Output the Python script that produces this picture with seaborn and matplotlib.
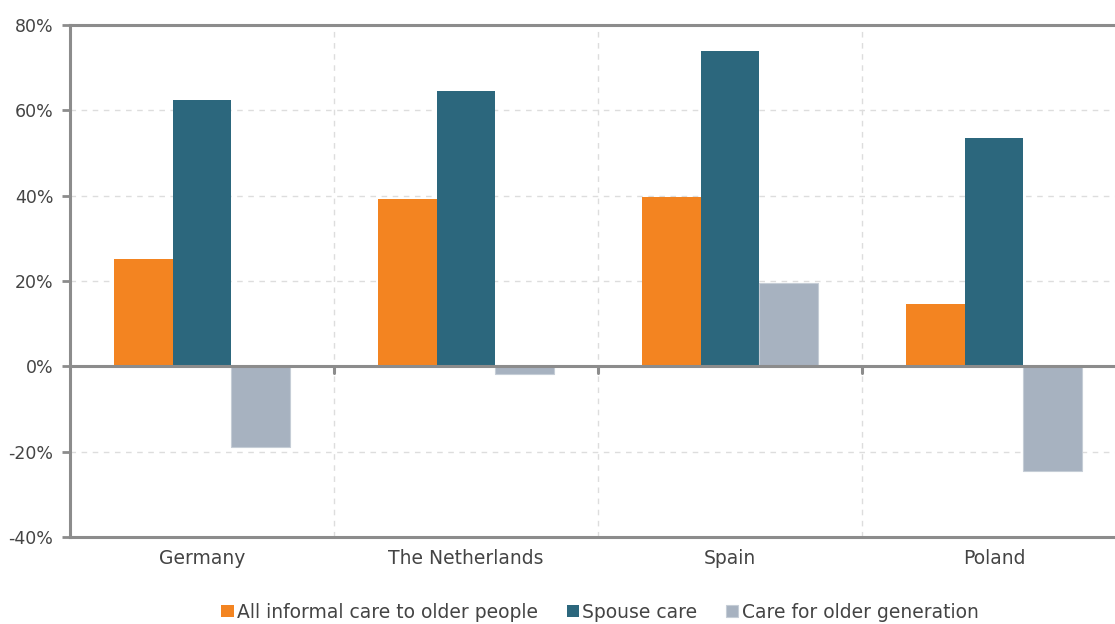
import numpy as np
import pandas as pd
import matplotlib
matplotlib.use("Agg")
import matplotlib.pyplot as plt
import seaborn as sns
from matplotlib.ticker import FuncFormatter

countries = ["Germany", "The Netherlands", "Spain", "Poland"]
series = ["All informal care to older people", "Spouse care", "Care for older generation"]
all_informal = [25.2, 39.2, 39.8, 14.5]
spouse = [62.4, 64.5, 73.9, 53.4]
older_gen = [-19.0, -1.9, 19.5, -24.6]
colors = ["#F38421", "#2C677D", "#A7B2C0"]

df = pd.DataFrame({
    "country": countries * 3,
    "series": [series[0]] * 4 + [series[1]] * 4 + [series[2]] * 4,
    "value": all_informal + spouse + older_gen,
})

sns.set_theme(style="white")
plt.rcParams["font.family"] = ["DejaVu Sans"]

fig = plt.figure(figsize=(11.15, 6.24), dpi=100)
ax = fig.add_axes([70 / 1115, 1 - 537 / 624, 1056 / 1115, 512 / 624])

sns.barplot(data=df, x="country", y="value", hue="series", order=countries,
            hue_order=series, palette=colors, width=0.665, ax=ax,
            saturation=1, edgecolor="none", linewidth=0, legend=True)
for p in ax.patches:
    if p.get_facecolor()[:3] == matplotlib.colors.to_rgb(colors[2]):
        p.set_edgecolor("#C5CDD6")
        p.set_linewidth(0.8)

ax.set_xlim(-0.5, 3.5)
ax.set_ylim(-40, 80)
ax.set_yticks(np.arange(-40, 81, 20))
ax.yaxis.set_major_formatter(FuncFormatter(lambda v, _: f"{int(v)}%"))
ax.set_xlabel("")
ax.set_ylabel("")

grid_c = "#DDDDDD"
for y in [-20, 20, 40, 60]:
    ax.axhline(y, color=grid_c, lw=1, ls=(0, (4, 4)), zorder=0)
for x in [0.5, 1.5, 2.5]:
    ax.axvline(x, color=grid_c, lw=1, ls=(0, (4, 4)), zorder=0)

spine_c = "#8C8C8C"
for s in ["top", "bottom", "left"]:
    ax.spines[s].set_color(spine_c)
    ax.spines[s].set_linewidth(2.2)
ax.spines["right"].set_visible(False)
ax.axhline(0, color=spine_c, lw=2.2, zorder=3)
for x in [0.5, 1.5, 2.5]:
    ax.plot([x, x], [0, -1.5], color=spine_c, lw=2.2, zorder=3, clip_on=False)

ax.tick_params(axis="y", which="major", length=6, width=2, color=spine_c,
               left=True, labelsize=12.5, labelcolor="#444444", pad=6)
ax.tick_params(axis="x", length=0, labelsize=13.5, labelcolor="#444444", pad=9)

handles, labels = ax.get_legend_handles_labels()
ax.legend_.remove()
fig.legend(handles, labels, loc="center", bbox_to_anchor=(600 / 1115, 1 - 612 / 624),
           ncol=3, frameon=False, fontsize=13.5, labelcolor="#444444",
           handlelength=0.65, handleheight=0.65, handletextpad=0.2, columnspacing=1.5)

fig.savefig("out.png", dpi=100)
